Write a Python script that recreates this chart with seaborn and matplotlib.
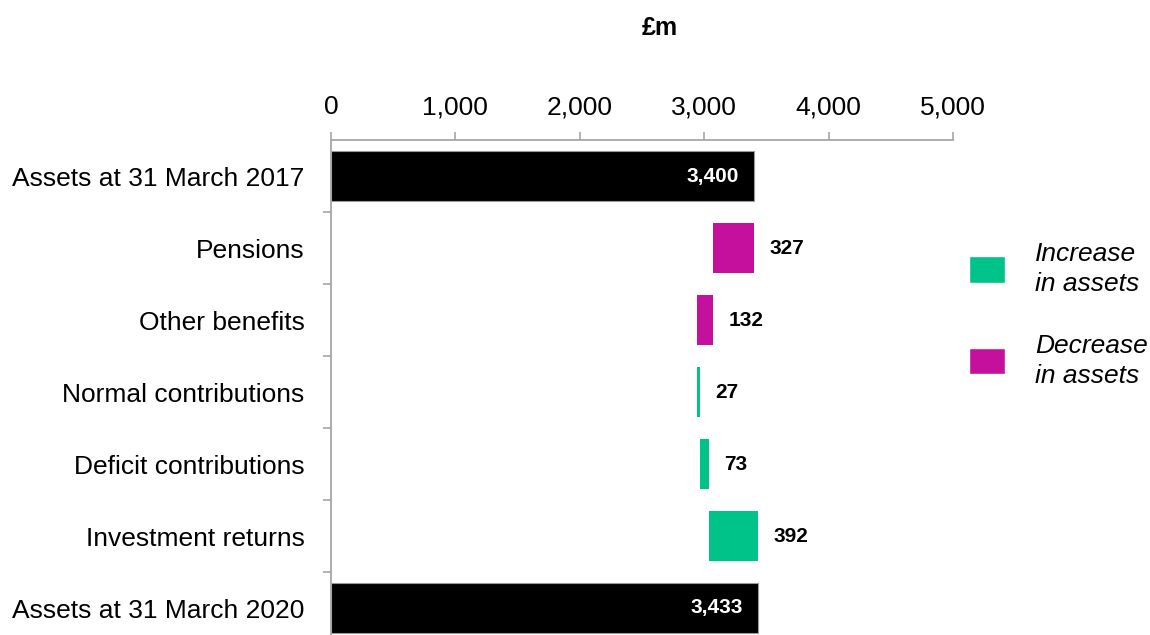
import matplotlib
matplotlib.use("Agg")
import matplotlib.pyplot as plt
import seaborn as sns
from matplotlib.patches import Patch
from matplotlib.ticker import FixedLocator, FuncFormatter

# ---- data ----
categories = ["Assets at 31 March 2017", "Pensions", "Other benefits",
              "Normal contributions", "Deficit contributions",
              "Investment returns", "Assets at 31 March 2020"]
changes = [3400, -327, -132, 27, 73, 392, 3433]
kinds = ["total", "decrease", "decrease", "increase", "increase", "increase", "total"]
value_labels = ["3,400", "327", "132", "27", "73", "392", "3,433"]
x_ticks = [0, 1000, 2000, 3000, 4000, 5000]
legend_labels = ["Increase\nin assets", "Decrease\nin assets"]

# ---- waterfall starts ----
starts = []
running = 0
for v, k in zip(changes, kinds):
    if k == "total":
        starts.append(0)
        running = v
    else:
        starts.append(running)
        running += v

kind_colors = {"total": "#000000", "increase": "#00C389", "decrease": "#C5109E"}
GRAY = "#A6A6A6"

sns.set_theme(style="white")
plt.rcParams["font.family"] = ["Liberation Sans", "DejaVu Sans"]
plt.rcParams["text.color"] = "black"
plt.rcParams["xtick.labelcolor"] = "black"
plt.rcParams["ytick.labelcolor"] = "black"

fig = plt.figure(figsize=(11.5, 6.35), dpi=100)
ax = fig.add_axes([331 / 1150, 0, 622 / 1150, 495 / 635])

sns.barplot(x=changes, y=categories, order=categories, left=starts,
            color="black", width=0.7, errorbar=None, ax=ax, orient="h")

for p, k in zip(ax.patches, kinds):
    p.set_facecolor(kind_colors[k])
    if k == "total":
        p.set_edgecolor("#9a9a9a")
        p.set_linewidth(0.8)
    else:
        p.set_edgecolor("none")

# value labels
for i, (s, v, k, lab) in enumerate(zip(starts, changes, kinds, value_labels)):
    if k == "total":
        ax.annotate(lab, xy=(s + v, i), xytext=(-11, 0), textcoords="offset points",
                    ha="right", va="center", color="white", fontsize=15,
                    fontweight="bold")
    else:
        ax.annotate(lab, xy=(max(s, s + v), i), xytext=(11, 0),
                    textcoords="offset points", ha="left", va="center",
                    color="black", fontsize=15, fontweight="bold")

# axes styling
ax.set_xlim(0, 5000)
ax.set_ylim(6.375, -0.5)
ax.xaxis.tick_top()
ax.xaxis.set_label_position("top")
ax.set_xticks(x_ticks)
ax.xaxis.set_major_formatter(FuncFormatter(lambda v, _: f"{int(v):,}"))
ax.tick_params(axis="x", which="major", direction="out", length=6, width=1.2,
               color=GRAY, labelsize=19, pad=9, labelcolor="black",
               top=True, bottom=False)
ax.set_xlabel("")
ax.set_ylabel("")

ax.yaxis.set_minor_locator(FixedLocator([i + 0.5 for i in range(len(categories) - 1)]))
ax.tick_params(axis="y", which="major", length=0, labelsize=19, pad=19,
               labelcolor="black", left=True)
ax.tick_params(axis="y", which="minor", direction="out", length=6, width=1.2,
               color=GRAY, left=True)

for side in ["right", "bottom"]:
    ax.spines[side].set_visible(False)
for side in ["top", "left"]:
    ax.spines[side].set_visible(True)
    ax.spines[side].set_color(GRAY)
    ax.spines[side].set_linewidth(1.3)
ax.grid(False)

fig.text(660 / 1150, 1 - 28 / 635, "£m", ha="center", va="center",
         fontsize=18, fontweight="bold", color="black")

handles = [Patch(facecolor=kind_colors["increase"]), Patch(facecolor=kind_colors["decrease"])]
leg = fig.legend(handles, legend_labels, loc="upper left",
                 bbox_to_anchor=(969 / 1150, 1 - 242 / 635), frameon=False,
                 prop={"size": 19, "style": "italic"}, handlelength=1.35,
                 handleheight=1.15, handletextpad=1.15, labelspacing=1.45,
                 borderaxespad=0, borderpad=0, labelcolor="black")
for t in leg.get_texts():
    t.set_linespacing(1.3)

fig.savefig("out.png", dpi=100)
